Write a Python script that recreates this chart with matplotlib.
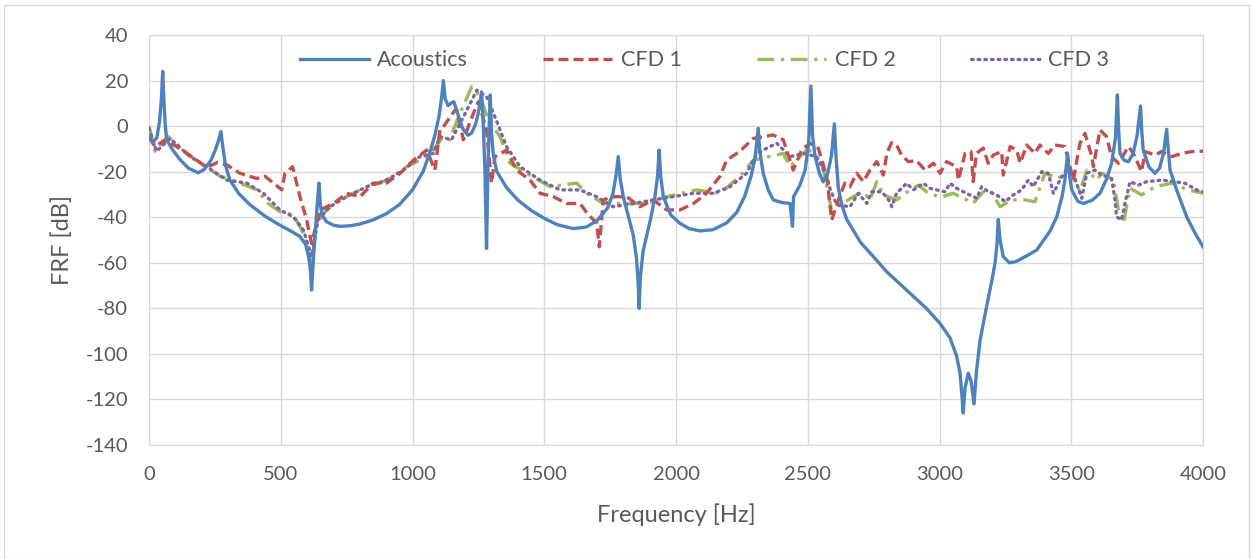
from matplotlib import pyplot as plt
from matplotlib.patches import Rectangle

# Frequency response data (Hz, dB) #
ac_freq = [0, 15, 30, 40, 47, 52, 57, 62, 67, 90, 120, 150, 187, 210, 235, 250, 262, 273, 280, 290,
           307, 340, 383, 440, 497, 545, 573, 595, 607, 613, 617, 622, 630, 640, 645, 650, 656, 674, 700, 725,
           760, 800, 850, 900, 950, 1000, 1040, 1065, 1085, 1100, 1110, 1117, 1124, 1135, 1148, 1157, 1170,
           1190, 1210, 1225, 1240, 1252, 1262, 1268, 1275, 1281, 1286, 1291, 1295, 1300, 1307, 1320, 1357,
           1400, 1450, 1500, 1550, 1610, 1660, 1700, 1740, 1760, 1772, 1781, 1788, 1800, 1820, 1838, 1850,
           1856, 1860, 1865, 1875, 1889, 1905, 1920, 1930, 1936, 1942, 1952, 1980, 2015, 2050, 2091, 2140,
           2192, 2230, 2260, 2285, 2300, 2312, 2318, 2331, 2350, 2369, 2400, 2433, 2442, 2446, 2470, 2490,
           2503, 2512, 2518, 2528, 2545, 2559, 2575, 2590, 2601, 2607, 2616, 2630, 2648, 2700, 2749, 2800,
           2875, 2950, 3002, 3040, 3065, 3078, 3085, 3090, 3097, 3109, 3120, 3131, 3140, 3154, 3179, 3200,
           3211, 3218, 3223, 3230, 3242, 3265, 3290, 3330, 3369, 3420, 3445, 3465, 3476, 3486, 3494, 3502,
           3525, 3546, 3580, 3609, 3635, 3653, 3668, 3675, 3680, 3685, 3700, 3717, 3735, 3750, 3763, 3768,
           3773, 3795, 3818, 3835, 3850, 3862, 3868, 3875, 3900, 3938, 3970, 4000]
ac_db = [-5, -7, -5, 2, 12, 24, 10, 0, -6, -10.5, -15, -18.5, -20.5, -19, -15, -11, -7, -2.4, -9, -17,
         -23.7, -29.5, -34.5, -39.5, -43.5, -46.5, -48.5, -52, -58, -64, -72, -62, -48, -32, -25, -34, -39, -42, -43.5, -44,
         -43.8, -43, -41.2, -38.5, -34.5, -28, -20, -12, -4, 4, 12, 20, 12, 9, 10.2, 10.7, 6,
         -1, -4, -3, 1, 7, 15, 3, -20, -53.7, -20, 0, 13.7, -3, -13, -20, -27,
         -32.5, -37, -40.5, -43.3, -45, -44.3, -41.5, -36, -30, -22, -13.4, -23, -31, -40, -48, -58,
         -68, -80, -66, -55, -48, -40, -31, -22, -10.5, -22, -31, -39, -42.7, -45, -46, -45.5,
         -42.5, -38, -31, -22, -14, -1, -11, -20.7, -28, -32.4, -33.5, -34, -44, -31, -26, -19.3,
         -8, 17.6, -4, -13.4, -21, -24.5, -21, -13, 1, -13, -27, -35, -41, -51, -57.3, -64,
         -72, -80, -86.6, -93, -101, -108.5, -118, -126, -115, -108.5, -112, -122, -108, -94, -79, -67,
         -60, -52, -41, -50, -57.3, -60, -59.5, -57, -54.4, -46, -39.8, -31, -23.7, -12, -22, -28,
         -33, -34, -32.5, -29.5, -23, -16.3, -5, 13.7, -2, -12, -15, -15.6, -12, -4, 8.8, -3,
         -10.5, -18, -20.7, -18.5, -12, -1.4, -10, -19.3, -28, -39.8, -47, -53]

cfd1_freq = [0, 23, 61, 105, 168, 219, 260, 295, 345, 409, 440, 472, 504, 516, 545, 573, 598, 617, 630, 649,
             700, 750, 801, 851, 902, 953, 1003, 1054, 1085, 1104, 1117, 1161, 1168, 1193, 1231, 1250, 1281,
             1300, 1313, 1357, 1395, 1446, 1484, 1535, 1585, 1636, 1661, 1699, 1709, 1724, 1762, 1813, 1863,
             1914, 1964, 2015, 2066, 2116, 2167, 2192, 2243, 2293, 2340, 2369, 2407, 2445, 2477, 2508, 2540,
             2572, 2591, 2616, 2641, 2660, 2686, 2711, 2736, 2762, 2787, 2800, 2818, 2837, 2856, 2882, 2913,
             2945, 2977, 3002, 3027, 3065, 3072, 3097, 3120, 3128, 3140, 3166, 3185, 3204, 3236, 3242, 3268,
             3293, 3306, 3331, 3362, 3381, 3413, 3438, 3476, 3508, 3533, 3552, 3578, 3584, 3609, 3634, 3653,
             3679, 3717, 3736, 3767, 3780, 3818, 3843, 3881, 3919, 3957, 4000]
cfd1_db = [-5, -9, -6, -9, -14, -18, -16, -17, -20.7, -23, -22, -25, -28, -20.7, -17.8, -31, -41, -51.5, -45.6, -36.8,
           -34, -29.5, -31, -25, -25, -20.7, -15, -10.5, -19.3, -1.7, -0.3, 7, 7, -6, 5.6, 10.7, -1.7,
           -25, -13.4, -10.5, -19.3, -23.7, -29.5, -31, -34, -34, -38, -42.7, -53, -32.4, -31, -31, -35.4,
           -32.4, -36.8, -36.8, -34, -29.5, -22, -15, -11, -5.4, -4.5, -3.9, -6, -19.3, -10.5, -7.5, -9.7,
           -22, -41.2, -32.4, -25, -26.6, -20.7, -24.4, -19.3, -15.6, -21.5, -12, -7.3, -8.3, -12.7, -15.6, -15.2,
           -19.3, -16.3, -20.7, -15.6, -17.8, -23.7, -12, -11.2, -24.4, -12, -9.7, -16.3, -12.7, -11.2, -21.5, -9,
           -10.5, -16.3, -8.3, -12, -8.3, -12, -8.3, -9, -23.7, -7.5, -3.2, -13.4, -17.8, -1.7, -4.6, -13.4,
           -16.3, -9, -12, -20, -11.2, -12.7, -11.2, -13.4, -12, -11.2, -11]

cfd2_freq = [0, 23, 73, 130, 194, 270, 345, 409, 453, 497, 548, 586, 617, 636, 674, 725, 775, 826, 877, 927,
             978, 1028, 1079, 1117, 1142, 1155, 1180, 1225, 1256, 1288, 1332, 1370, 1433, 1522, 1623, 1661,
             1724, 1813, 1889, 1964, 2078, 2167, 2243, 2293, 2407, 2433, 2496, 2546, 2575, 2590, 2622, 2673,
             2711, 2736, 2762, 2787, 2837, 2888, 2920, 2951, 3002, 3052, 3103, 3128, 3166, 3192, 3230, 3274,
             3325, 3362, 3400, 3451, 3489, 3508, 3533, 3559, 3597, 3616, 3660, 3679, 3698, 3723, 3767, 3818,
             3881, 3944, 4000]
cfd2_db = [0, -11, -4.6, -10.5, -16.3, -22, -25, -28, -34, -37.6, -39, -47, -61.7, -42.7, -36.8, -32.4, -29.5, -26.6, -25, -22,
           -17.8, -15, -10.5, -4.6, -6, -1.7, 5.6, 17.3, 13, 2.7, -4.6, -16.3, -20.7, -26.6, -25, -29.5,
           -34, -34, -34, -31, -28, -29.5, -22, -15, -12, -17.8, -10.5, -12, -28, -36.8, -34.6, -31,
           -28.8, -32.4, -24.4, -30.2, -32.4, -28, -25.9, -28.8, -31.3, -29.5, -32.4, -33.9, -28.8, -28, -35.4, -32.4,
           -32.4, -33.2, -20.7, -23, -19.3, -23, -28.8, -19.3, -23.7, -20.7, -23.7, -36.8, -42.7, -27.3, -30.2, -26.6,
           -25.1, -28, -29.5]

cfd3_freq = [0, 29, 80, 156, 219, 295, 371, 434, 497, 548, 586, 617, 642, 687, 750, 826, 902, 965, 1028, 1079,
             1104, 1148, 1193, 1244, 1281, 1313, 1357, 1408, 1484, 1560, 1636, 1699, 1762, 1838, 1914, 1989,
             2066, 2142, 2205, 2268, 2306, 2382, 2433, 2483, 2534, 2572, 2584, 2610, 2660, 2692, 2724, 2743,
             2781, 2812, 2819, 2837, 2875, 2901, 2939, 2964, 2989, 3021, 3040, 3065, 3090, 3141, 3160, 3185,
             3217, 3249, 3280, 3312, 3337, 3356, 3388, 3413, 3432, 3457, 3489, 3514, 3540, 3559, 3590, 3616,
             3653, 3666, 3672, 3691, 3704, 3723, 3755, 3786, 3843, 3894, 3932, 3976, 4000]
cfd3_db = [-1, -11, -5.4, -13.4, -17.8, -23.7, -25, -29.5, -36.8, -39.8, -45.6, -57.3, -41, -35.4, -31, -26.6, -23.7, -19.3, -13.4, -12,
           -4.6, -6, 4, 15.8, 13, 4, -9, -17.8, -23.7, -28, -28, -31, -35.4, -34, -32.4, -31,
           -29.5, -29.5, -26.6, -20.7, -12, -7.5, -13.4, -12, -13.4, -22, -27.3, -34.6, -35.4, -29.5, -33.9, -28.8,
           -28.8, -33.2, -35.4, -29.5, -25.1, -28, -25.1, -27.3, -28, -28.8, -25.1, -27.3, -28.8, -31.7, -26.6, -28.8,
           -30.2, -33.2, -30.2, -28, -23.7, -26.6, -20, -20.7, -29.5, -23.7, -17.8, -23, -31.7, -20.7, -19.3, -21.5,
           -23, -32.4, -39.8, -41.2, -33.9, -24.4, -25.9, -24.4, -23.7, -24.4, -25.1, -28, -28.8]

# Plot setup #
plt.rcParams['font.family'] = ['Lato', 'DejaVu Sans']
plt.rcParams['axes.unicode_minus'] = False
fig = plt.figure(figsize=(12.53, 5.59), dpi=100)
ax = fig.add_axes([149/1253, 1-445/559, (1203-149)/1253, (445-35)/559])

# Light chart border like the Excel chart area #
fig.patches.append(Rectangle((4/1253, 0.0), 1245/1253, 1-5/559, transform=fig.transFigure,
                             fill=False, edgecolor='#d9d9d9', linewidth=1))

ax.plot(ac_freq, ac_db, color='#4f81bd', linewidth=2.4, label='Acoustics', zorder=5)
ax.plot(cfd1_freq, cfd1_db, color='#c0504d', linewidth=2.4, linestyle=(0, (3, 1.5)), label='CFD 1', zorder=4)
ax.plot(cfd2_freq, cfd2_db, color='#9bbb59', linewidth=2.4, linestyle=(0, (5, 2, 1, 2)), label='CFD 2', zorder=3)
ax.plot(cfd3_freq, cfd3_db, color='#8064a2', linewidth=2.4, linestyle=(0, (0.5, 1.5)),
        dash_capstyle='round', label='CFD 3', zorder=3)

# Axes and gridlines #
ax.set_xlim(0, 4000)
ax.set_ylim(-140, 40)
ax.set_xticks(range(0, 4001, 500))
ax.set_yticks(range(-140, 41, 20))
ax.grid(True, color='#d9d9d9', linewidth=1)
ax.set_axisbelow(True)
for s in ax.spines.values():
    s.set_color('#d9d9d9')
ax.tick_params(length=0, labelsize=14.5, labelcolor='#595959', pad=15)
ax.set_xlabel('Frequency [Hz]', fontsize=17, color='#595959', labelpad=15)
ax.set_ylabel('FRF [dB]', fontsize=17, color='#595959', labelpad=9)

ax.legend(loc='upper center', bbox_to_anchor=(0.527, 1.01), ncol=4, frameon=False, fontsize=15.5,
          handlelength=3.2, handletextpad=0.4, columnspacing=3.5, labelcolor='#595959')

plt.savefig('out.png', dpi=100)
